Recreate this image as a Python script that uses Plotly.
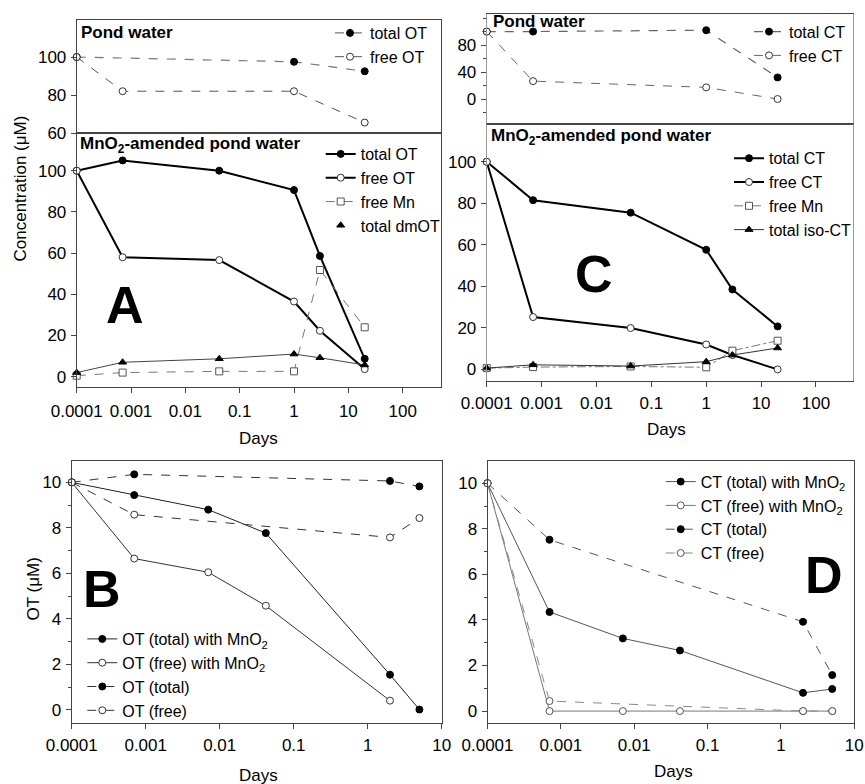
import plotly.graph_objects as go

W, H = 865, 784
FONT = "Liberation Sans, Arial, sans-serif"

# ---------------- Panel A (top) : pond water ----------------
a_top_days_total = [0.0001, 1, 20]
a_top_total_ot = [100, 97.5, 92.5]
a_top_days_free = [0.0001, 0.0007, 1, 20]
a_top_free_ot = [100, 82, 82, 65.5]

# ---------------- Panel A (bottom) : MnO2-amended ----------------
a_days = [0.0001, 0.0007, 0.042, 1, 3, 20]
a_total_ot = [100, 105, 100, 90.6, 58.6, 8.7]
a_free_ot = [100, 58, 56.6, 36.5, 22.3, 3.7]
a_free_mn = [0.5, 2, 2.6, 2.6, 51.8, 24]
a_total_dmot = [2, 7, 8.7, 11, 9.2, 5.7]

# ---------------- Panel C (top) : pond water ----------------
c_top_days = [0.0001, 0.0007, 1, 20]
c_top_total_ct = [100, 100, 102, 32]
c_top_free_ct = [100, 26.5, 17.3, 0]

# ---------------- Panel C (bottom) : MnO2-amended ----------------
c_days = [0.0001, 0.0007, 0.042, 1, 3, 20]
c_total_ct = [100, 81.5, 75.5, 57.6, 38.5, 20.7]
c_free_ct = [100, 25.2, 19.9, 12, 6.9, 0]
c_free_mn = [0.6, 1.1, 1.4, 1, 9, 13.8]
c_total_isoct = [0.6, 2.2, 1.6, 3.7, 6.9, 10.3]

# ---------------- Panel B ----------------
b_days = [0.0001, 0.0007, 0.007, 0.042, 2, 5]
b_total_mn = [10, 9.44, 8.8, 7.77, 1.55, 0.02]
b_days_free_mn = [0.0001, 0.0007, 0.007, 0.042, 2]
b_free_mn = [10, 6.65, 6.05, 4.58, 0.41]
b_days_ctrl = [0.0001, 0.0007, 2, 5]
b_total = [10, 10.35, 10.06, 9.82]
b_free = [10, 8.58, 7.58, 8.43]

# ---------------- Panel D ----------------
d_days = [0.0001, 0.0007, 0.007, 0.042, 2, 5]
d_total_mn = [10, 4.35, 3.19, 2.66, 0.8, 0.97]
d_free_mn = [10, 0, 0, 0, 0, 0]
d_days_ctrl = [0.0001, 0.0007, 2, 5]
d_total = [10, 7.52, 3.92, 1.58]
d_free = [10, 0.44, 0, 0]

# tick labels
x_ticks_ac = [0.0001, 0.001, 0.01, 0.1, 1, 10, 100]
x_ticktext_ac = ["0.0001", "0.001", "0.01", "0.1", "1", "10", "100"]
x_ticks_bd = [0.0001, 0.001, 0.01, 0.1, 1, 10]
x_ticktext_bd = ["0.0001", "0.001", "0.01", "0.1", "1", "10"]


def px_x(p):
    return p / W


def px_y(p):
    return 1 - p / H


fig = go.Figure()

FILLED = dict(symbol="circle", size=7, color="black", line=dict(color="black", width=1))
OPEN = dict(symbol="circle", size=7, color="white", line=dict(color="#333", width=1))
OPEN_GRAY = dict(symbol="circle", size=7, color="white", line=dict(color="#555", width=1))
SQUARE = dict(symbol="square", size=7, color="white", line=dict(color="#555", width=1))
TRI = dict(symbol="triangle-up", size=7, color="black", line=dict(color="black", width=1))


def add(x, y, name, ax, line, marker, legend, showlegend=True):
    fig.add_trace(go.Scatter(
        x=x, y=y, name=name, mode="lines+markers", line=line, marker=marker,
        xaxis="x" + ax, yaxis="y" + ax, legend=legend, showlegend=showlegend,
        cliponaxis=False,
    ))


# A top
add(a_top_days_total, a_top_total_ot, "total OT", "", dict(color="#777", width=1.2, dash="dash"), FILLED, "legend")
add(a_top_days_free, a_top_free_ot, "free OT", "", dict(color="#555", width=1, dash="dash"), OPEN, "legend")

# A bottom
add(a_days, a_total_ot, "total OT", "2", dict(color="black", width=2), FILLED, "legend2")
add(a_days, a_free_ot, "free OT", "2", dict(color="black", width=2), OPEN, "legend2")
add(a_days, a_free_mn, "free Mn", "2", dict(color="#777", width=1, dash="dash"), SQUARE, "legend2")
add(a_days, a_total_dmot, "total dmOT", "2", dict(color="#444", width=1), TRI, "legend2", showlegend=False)
fig.add_trace(go.Scatter(x=[None], y=[None], name="total dmOT", mode="markers", marker=TRI,
                         xaxis="x2", yaxis="y2", legend="legend2"))

# C top
add(c_top_days, c_top_total_ct, "total CT", "3", dict(color="#666", width=1.2, dash="dash"), FILLED, "legend3")
add(c_top_days, c_top_free_ct, "free CT", "3", dict(color="#666", width=1, dash="dash"), OPEN, "legend3")

# C bottom
add(c_days, c_total_ct, "total CT", "4", dict(color="black", width=2), FILLED, "legend4")
add(c_days, c_free_ct, "free CT", "4", dict(color="black", width=2), OPEN, "legend4")
add(c_days, c_free_mn, "free Mn", "4", dict(color="#777", width=1, dash="dashdot"), SQUARE, "legend4")
add(c_days, c_total_isoct, "total iso-CT", "4", dict(color="#333", width=1), TRI, "legend4")

# B
add(b_days, b_total_mn, "OT (total) with MnO<sub>2</sub>", "5", dict(color="#222", width=1), FILLED, "legend5")
add(b_days_free_mn, b_free_mn, "OT (free) with MnO<sub>2</sub>", "5", dict(color="#333", width=1), OPEN, "legend5")
add(b_days_ctrl, b_total, "OT (total)", "5", dict(color="#333", width=1, dash="dash"), FILLED, "legend5")
add(b_days_ctrl, b_free, "OT (free)", "5", dict(color="#333", width=1, dash="dash"), OPEN, "legend5")

# D
add(d_days, d_total_mn, "CT (total) with MnO<sub>2</sub>", "6", dict(color="#555", width=1), FILLED, "legend6")
add(d_days, d_free_mn, "CT (free) with MnO<sub>2</sub>", "6", dict(color="#777", width=1), OPEN_GRAY, "legend6")
add(d_days_ctrl, d_total, "CT (total)", "6", dict(color="#555", width=1, dash="dash"), FILLED, "legend6")
add(d_days_ctrl, d_free, "CT (free)", "6", dict(color="#888", width=1, dash="dash"), OPEN_GRAY, "legend6")

TICKFONT = dict(family=FONT, size=17, color="black")
LINEC = "#444"


def xaxis(domain, rng, anchor, labels, vals=None, text=None, standoff=6):
    d = dict(type="log", domain=domain, range=rng, anchor=anchor, automargin=False,
             showline=True, linecolor=LINEC, linewidth=1, mirror=True,
             showgrid=False, zeroline=False, tickfont=TICKFONT)
    if labels:
        d.update(tickmode="array", tickvals=vals, ticktext=text, ticks="outside",
                 ticklen=5, tickcolor=LINEC, ticklabelstandoff=standoff)
    else:
        d.update(showticklabels=False, ticks="")
    return d


def yaxis(domain, rng, anchor, vals, minor=None, linecolor=LINEC, standoff=1):
    d = dict(domain=domain, range=rng, anchor=anchor, tickmode="array", tickvals=vals,
             ticks="outside", ticklen=5, tickcolor=LINEC, automargin=False,
             showline=True, linecolor=linecolor, linewidth=1, mirror=True,
             showgrid=False, zeroline=False, tickfont=TICKFONT, ticklabelstandoff=standoff)
    if minor is not None:
        d["minor"] = dict(dtick=minor, ticks="outside", ticklen=3, tickcolor=LINEC, showgrid=False)
    return d


ax_A = [px_x(76.7), px_x(440.7)]
ax_C = [px_x(486.7), px_x(853)]
ax_B = [px_x(71.7), px_x(441.7)]
ax_D = [px_x(487.5), px_x(854.3)]

fig.update_layout(
    xaxis=xaxis(ax_A, [-4, 2.70], "y", False),
    yaxis=yaxis([px_y(133), px_y(20)], [60, 119.5], "x", [60, 80, 100]),
    xaxis2=xaxis(ax_A, [-4, 2.70], "y2", True, x_ticks_ac, x_ticktext_ac, 4),
    yaxis2=yaxis([px_y(386.7), px_y(133)], [-4.85, 118.3], "x2", [0, 20, 40, 60, 80, 100]),
    xaxis3=xaxis(ax_C, [-4, 2.675], "y3", False),
    yaxis3=yaxis([px_y(124), px_y(14)], [-37, 126], "x3", [0, 40, 80], minor=20, linecolor="#999"),
    xaxis4=xaxis(ax_C, [-4, 2.675], "y4", True, x_ticks_ac, x_ticktext_ac, 2),
    yaxis4=yaxis([px_y(381), px_y(124)], [-5.6, 118.2], "x4", [0, 20, 40, 60, 80, 100], linecolor="#999"),
    xaxis5=xaxis(ax_B, [-4, 1], "y5", True, x_ticks_bd, x_ticktext_bd, 2),
    yaxis5=yaxis([px_y(722.5), px_y(460.7)], [-0.55, 10.95], "x5", [0, 2, 4, 6, 8, 10], minor=1),
    xaxis6=xaxis(ax_D, [-4, 1], "y6", True, x_ticks_bd, x_ticktext_bd, 2),
    yaxis6=yaxis([px_y(722.7), px_y(460.7)], [-0.51, 10.99], "x6", [0, 2, 4, 6, 8, 10], minor=1),
)

LEGFONT = dict(family=FONT, size=16, color="black")


def legend(text_x, first_row_y, offset=41):
    return dict(x=px_x(text_x - offset), y=px_y(first_row_y - 17), xanchor="left", yanchor="top",
                bgcolor="rgba(0,0,0,0)", borderwidth=0, font=LEGFONT,
                itemwidth=30, tracegroupgap=0)


fig.update_layout(
    legend=legend(358, 33, 28),
    legend2=legend(361.7, 154),
    legend3=legend(790, 31.7),
    legend4=legend(770, 158.3),
    legend5=legend(123.3, 639),
    legend6=legend(701.7, 481.7),
)

annotations = []


def text(x, y, s, size, bold=False, xanchor="left", angle=0):
    annotations.append(dict(
        x=px_x(x), y=px_y(y), xref="paper", yref="paper", text=("<b>%s</b>" % s) if bold else s,
        showarrow=False, xanchor=xanchor, yanchor="middle", textangle=angle,
        font=dict(family=FONT, size=size, color="black"),
    ))


text(79, 33, "Pond water", 17, True)
text(78, 145, "MnO<sub>2</sub>-amended pond water", 17, True)
text(491, 22, "Pond water", 17, True)
text(489, 137, "MnO<sub>2</sub>-amended pond water", 17, True)

text(125, 305, "A", 52, True, "center")
text(594, 274, "C", 52, True, "center")
text(102, 589, "B", 52, True, "center")
text(824, 575, "D", 52, True, "center")

text(258, 438, "Days", 17, False, "center")
text(666, 429, "Days", 17, False, "center")
text(258, 775, "Days", 17, False, "center")
text(673, 771, "Days", 17, False, "center")

text(19.5, 189, "Concentration (μM)", 17, False, "center", -90)
text(32.5, 589, "OT (μM)", 17, False, "center", -90)

fig.update_layout(
    annotations=annotations,
    width=W, height=H, autosize=False,
    margin=dict(l=0, r=0, t=0, b=0),
    paper_bgcolor="white", plot_bgcolor="white",
    font=dict(family=FONT, size=16, color="black"),
)

fig.write_html("out.html", config={"displayModeBar": False},
               post_script="document.body.style.margin='0';")
